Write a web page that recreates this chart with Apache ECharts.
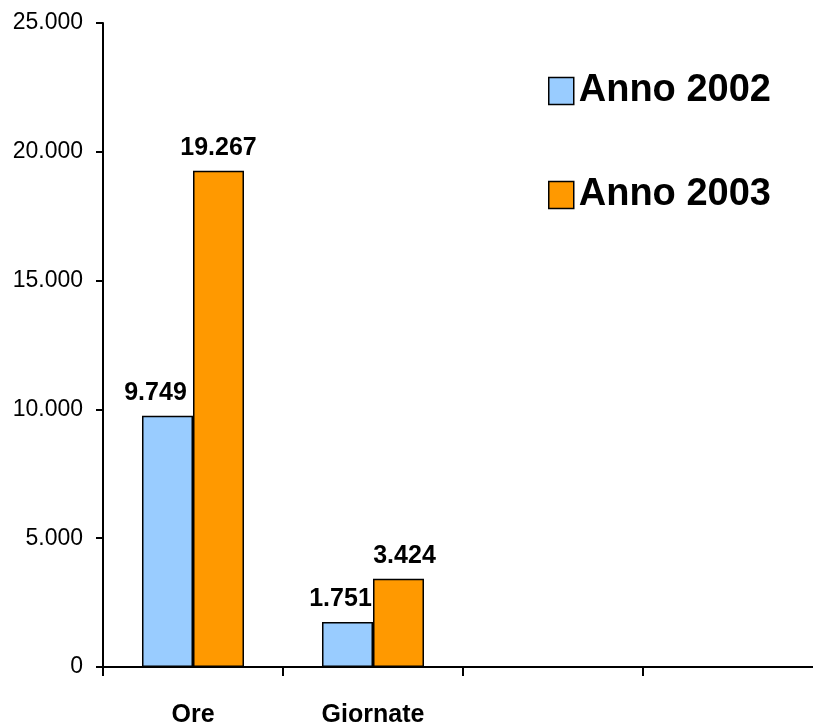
<!DOCTYPE html>
<html>
<head>
<meta charset="utf-8">
<script src="https://cdn.jsdelivr.net/npm/echarts@6/dist/echarts.min.js"></script>
<style>html,body{margin:0;padding:0;background:#fff;}#c{width:813px;height:722px;}</style>
</head>
<body>
<div id="c"></div>
<script>
const categories = ['Ore', 'Giornate', '', ''];
const seriesNames = ['Anno 2002', 'Anno 2003'];
const values2002 = [9749, 1751, null, null];
const values2003 = [19267, 3424, null, null];
const yTicks = [0, 5000, 10000, 15000, 20000, 25000];

function fmt(v) {
  return String(Math.round(v)).replace(/\B(?=(\d{3})+(?!\d))/g, '.');
}

const chart = echarts.init(document.getElementById('c'), null, {renderer: 'canvas'});
const FONT = 'Liberation Sans, Arial, sans-serif';

function mkSeries(name, vals, color, offsets) {
  return {
    name: name,
    type: 'bar',
    barWidth: 51,
    barGap: '0%',
    data: vals.map((v, i) => ({
      value: v,
      label: { offset: [offsets[i] || 0, 0] }
    })),
    itemStyle: { color: color, borderColor: '#000', borderWidth: 1.5 },
    label: {
      show: true,
      position: 'top',
      distance: 10,
      color: '#000',
      fontFamily: FONT,
      fontWeight: 'bold',
      fontSize: 25,
      formatter: p => fmt(p.value)
    }
  };
}

chart.setOption({
  animation: false,
  backgroundColor: '#fff',
  grid: { left: 103, top: 23, width: 720, height: 644, outerBoundsMode: 'none', containLabel: false },
  legend: {
    orient: 'vertical',
    left: 543,
    top: 67,
    icon: 'rect',
    itemWidth: 25,
    itemHeight: 27,
    itemGap: 66,
    data: seriesNames,
    textStyle: { fontFamily: FONT, fontWeight: 'bold', fontSize: 38, color: '#000' },
    itemStyle: { borderColor: '#000', borderWidth: 1.5 }
  },
  xAxis: {
    type: 'category',
    data: categories,
    boundaryGap: true,
    axisLine: { lineStyle: { color: '#000', width: 2 } },
    axisTick: { show: true, length: 9, lineStyle: { color: '#000', width: 2 } },
    axisLabel: { margin: 36, color: '#000', fontFamily: FONT, fontWeight: 'bold', fontSize: 25, interval: 0 },
    splitLine: { show: false }
  },
  yAxis: {
    type: 'value',
    min: yTicks[0],
    max: yTicks[yTicks.length - 1],
    interval: 5000,
    axisLine: { show: true, lineStyle: { color: '#000', width: 2 } },
    axisTick: { show: true, length: 7, lineStyle: { color: '#000', width: 2 } },
    axisLabel: { margin: 20, padding: [7, 0, 0, 0], color: '#000', fontFamily: FONT, fontSize: 23, formatter: v => fmt(v) },
    splitLine: { show: false }
  },
  series: [
    mkSeries(seriesNames[0], values2002, '#99ccff', [-12, -7, 0, 0]),
    mkSeries(seriesNames[1], values2003, '#ff9900', [0, 6, 0, 0])
  ]
});
</script>
</body>
</html>
